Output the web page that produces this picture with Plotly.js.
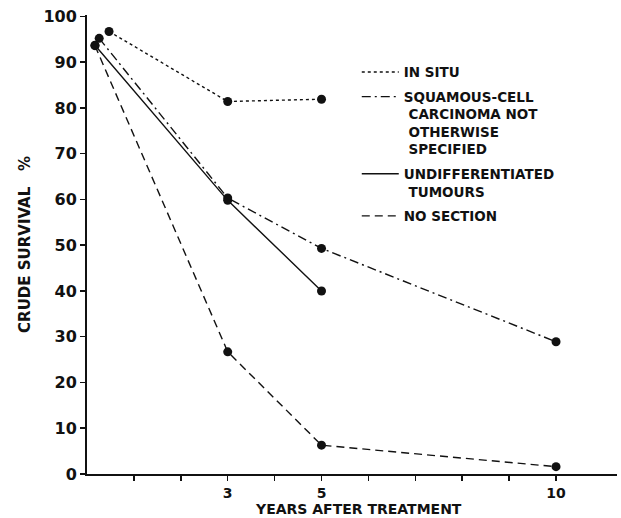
<!DOCTYPE html>
<html>
<head>
<meta charset="utf-8">
<script src="https://cdn.plot.ly/plotly-3.0.1.min.js"></script>
<style>html,body{margin:0;padding:0;background:#fff;}#chart{width:621px;height:518px;}</style>
</head>
<body>
<div id="chart"></div>
<script>
// Series data (years after treatment, crude survival %)
const inSituYears = [0.47, 3, 5];
const inSituSurvival = [96.7, 81.4, 81.9];

const squamousYears = [0.26, 3, 5, 10];
const squamousSurvival = [95.2, 60.3, 49.3, 28.9];

const undiffYears = [0.17, 3, 5];
const undiffSurvival = [93.7, 59.8, 40.0];

const noSectionYears = [0.17, 3, 5, 10];
const noSectionSurvival = [93.6, 26.7, 6.3, 1.6];

const seriesNames = [
  'IN SITU',
  'SQUAMOUS-CELL<br>&nbsp;CARCINOMA NOT<br>&nbsp;OTHERWISE<br>&nbsp;SPECIFIED',
  'UNDIFFERENTIATED<br>&nbsp;TUMOURS',
  'NO SECTION'
];

const xTickVals = [1, 2, 3, 4, 5, 6, 7, 8, 9, 10];
const xTickText = ['', '', '3', '', '5', '', '', '', '', '10'];
const yTickVals = [0, 10, 20, 30, 40, 50, 60, 70, 80, 90, 100];

const xTitle = 'YEARS AFTER TREATMENT';
const yTitle = 'CRUDE SURVIVAL&nbsp;&nbsp;&nbsp;%';

const FONT = {family: 'DejaVu Sans, Liberation Sans, sans-serif', weight: 'bold', color: '#111'};

const series = [
  {x: inSituYears, y: inSituSurvival, name: seriesNames[0], dash: 'dot'},
  {x: squamousYears, y: squamousSurvival, name: seriesNames[1], dash: '9px,4px,2px,4px'},
  {x: undiffYears, y: undiffSurvival, name: seriesNames[2], dash: 'solid'},
  {x: noSectionYears, y: noSectionSurvival, name: seriesNames[3], dash: '8px,5px'}
];

const traces = [];
series.forEach((s, i) => {
  traces.push({
    x: s.x, y: s.y, name: s.name, type: 'scatter', mode: 'lines',
    line: {color: '#111', width: 1.4, dash: s.dash},
    legendgroup: 'g' + i,
    showlegend: true, hoverinfo: 'skip'
  });
});
series.forEach((s, i) => {
  traces.push({
    x: s.x, y: s.y, type: 'scatter', mode: 'markers',
    marker: {color: '#111', size: 9},
    legendgroup: 'g' + i,
    showlegend: false
  });
});

const layout = {
  width: 621, height: 518,
  margin: {l: 87, r: 4, t: 15, b: 44},
  paper_bgcolor: '#fff', plot_bgcolor: '#fff',
  font: Object.assign({size: 13}, FONT),
  showlegend: true,
  legend: {
    x: 0.509, y: 0.909, xanchor: 'left', yanchor: 'top',
    valign: 'top', bgcolor: 'rgba(0,0,0,0)',
    font: Object.assign({size: 13.5}, FONT),
    tracegroupgap: 4, itemwidth: 37
  },
  xaxis: {
    range: [0, 11.3], showgrid: false, zeroline: false,
    showline: true, linecolor: '#111', linewidth: 2,
    tickmode: 'array', tickvals: xTickVals, ticktext: xTickText,
    ticks: 'outside', ticklen: 5, tickwidth: 1.5, tickcolor: '#111',
    tickfont: Object.assign({size: 14}, FONT)
  },
  yaxis: {
    range: [0, 100.3], showgrid: false, zeroline: false,
    showline: true, linecolor: '#111', linewidth: 2,
    tickmode: 'array', tickvals: yTickVals,
    ticks: 'outside', ticklen: 5, tickwidth: 1.5, tickcolor: '#111',
    tickfont: Object.assign({size: 16}, FONT),
    title: {text: yTitle, font: Object.assign({size: 15}, FONT), standoff: 9}
  },
  annotations: [{
    text: xTitle, xref: 'paper', yref: 'paper',
    x: 0.513, y: -0.0763, xanchor: 'center', yanchor: 'middle',
    showarrow: false, font: Object.assign({size: 14}, FONT)
  }]
};

Plotly.newPlot('chart', traces, layout, {displayModeBar: false, staticPlot: true});
</script>
</body>
</html>
